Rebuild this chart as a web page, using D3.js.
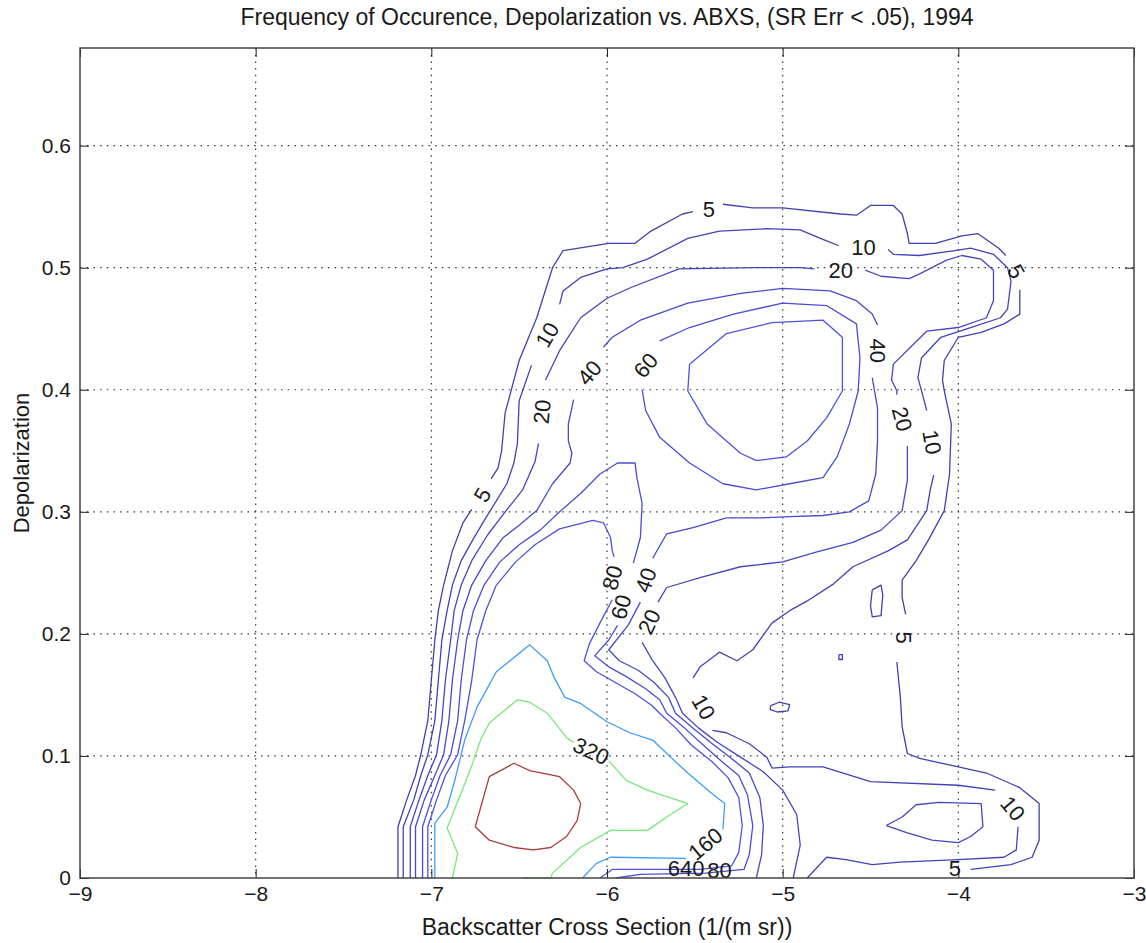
<!DOCTYPE html>
<html>
<head>
<meta charset="utf-8">
<script src="https://cdn.jsdelivr.net/npm/d3@7"></script>
<style>
  body { margin: 0; background: #fff; }
  text { font-family: "Liberation Sans", Arial, Helvetica, sans-serif; fill: #1a1a1a; }
</style>
</head>
<body>
<svg id="chart" width="1146" height="943"></svg>
<script>
/* Frequency of occurence contour chart, depolarization vs. ABXS (1994) */

const xTicks = [-9, -8, -7, -6, -5, -4, -3];
const yTicks = [0, 0.1, 0.2, 0.3, 0.4, 0.5, 0.6];
const levels = [5, 10, 20, 40, 60, 80, 160, 320, 640];

// contour pieces per level, [log10 backscatter, depolarization]
const c5 = [
  [[-7.19,0],[-7.19,0.042],[-7.14,0.064],[-7.09,0.084],[-7.06,0.101],[-7.02,0.129],[-7.0,0.162],[-6.98,0.195],[-6.96,0.219],[-6.93,0.24],[-6.88,0.268],[-6.82,0.291],[-6.77,0.302]],
  [[-6.66,0.327],[-6.62,0.336],[-6.6,0.35],[-6.58,0.381],[-6.5,0.424],[-6.4,0.459],[-6.31,0.5],[-6.25,0.514],[-5.99,0.52],[-5.84,0.52],[-5.75,0.53],[-5.57,0.544],[-5.51,0.546]],
  [[-5.34,0.552],[-5.17,0.549],[-5.0,0.549],[-4.67,0.544],[-4.58,0.543],[-4.5,0.551],[-4.37,0.551],[-4.32,0.544],[-4.29,0.528],[-4.28,0.52],[-4.13,0.52],[-3.98,0.526],[-3.89,0.528],[-3.77,0.516],[-3.73,0.51]],
  [[-3.65,0.482],[-3.65,0.462],[-3.74,0.454],[-3.87,0.447],[-4.0,0.443],[-4.08,0.424],[-4.09,0.408],[-4.08,0.399],[-4.04,0.372],[-4.05,0.331],[-4.08,0.301],[-4.17,0.277],[-4.24,0.26],[-4.32,0.244],[-4.32,0.23],[-4.3,0.216]],
  [[-4.35,0.177],[-4.33,0.148],[-4.32,0.124],[-4.29,0.102],[-4.22,0.098],[-4.0,0.091],[-3.84,0.086],[-3.65,0.074],[-3.54,0.061],[-3.54,0.031],[-3.58,0.017],[-3.7,0.011],[-3.93,0.007]],
  [[-4.49,0.236],[-4.44,0.24],[-4.43,0.232],[-4.44,0.215],[-4.49,0.214],[-4.5,0.223],[-4.49,0.236]],
  [[-4.68,0.183],[-4.66,0.183],[-4.66,0.179],[-4.68,0.179],[-4.68,0.183]],
  [[-5.07,0.141],[-5.02,0.144],[-4.96,0.142],[-4.97,0.137],[-5.03,0.136],[-5.07,0.138],[-5.07,0.141]]
];
const c10 = [
  [[-7.16,0],[-7.16,0.042],[-7.1,0.064],[-7.06,0.084],[-7.02,0.101],[-6.98,0.129],[-6.96,0.162],[-6.94,0.195],[-6.91,0.219],[-6.88,0.24],[-6.83,0.26],[-6.76,0.278],[-6.69,0.295],[-6.63,0.309],[-6.57,0.323],[-6.53,0.34],[-6.51,0.356],[-6.5,0.391],[-6.43,0.42]],
  [[-6.27,0.47],[-6.25,0.481],[-6.15,0.492],[-6.0,0.499],[-5.91,0.5],[-5.77,0.507],[-5.54,0.524],[-5.36,0.53],[-5.09,0.532],[-4.9,0.531],[-4.85,0.528],[-4.75,0.522],[-4.68,0.518]],
  [[-4.4,0.515],[-4.37,0.511],[-4.22,0.51],[-4.02,0.514],[-3.93,0.516],[-3.8,0.511],[-3.72,0.5],[-3.7,0.489],[-3.72,0.466],[-3.76,0.459],[-3.93,0.451],[-4.1,0.443],[-4.21,0.426],[-4.23,0.41],[-4.2,0.394],[-4.18,0.383]],
  [[-4.14,0.33],[-4.16,0.318],[-4.18,0.301],[-4.29,0.277],[-4.4,0.268],[-4.6,0.255],[-4.71,0.241],[-4.86,0.227],[-4.96,0.219],[-5.06,0.209],[-5.17,0.187],[-5.26,0.178],[-5.36,0.185],[-5.47,0.173],[-5.51,0.164]],
  [[-5.4,0.121],[-5.32,0.119],[-5.19,0.11],[-5.09,0.099],[-5.06,0.09],[-4.96,0.091],[-4.77,0.091],[-4.5,0.079],[-4.0,0.076],[-3.79,0.072]],
  [[-3.66,0.042],[-3.67,0.023],[-3.74,0.017],[-4.0,0.015],[-4.33,0.013],[-4.49,0.011],[-4.64,0.015],[-4.75,0.017],[-4.86,0]]
];
const c20 = [
  [[-7.12,0],[-7.12,0.042],[-7.07,0.064],[-7.02,0.084],[-6.97,0.101],[-6.94,0.129],[-6.92,0.162],[-6.89,0.195],[-6.87,0.219],[-6.83,0.24],[-6.77,0.26],[-6.68,0.281],[-6.58,0.3],[-6.48,0.318],[-6.41,0.341],[-6.39,0.356]],
  [[-6.35,0.408],[-6.27,0.432],[-6.15,0.459],[-6.0,0.475],[-5.86,0.484],[-5.59,0.499],[-5.17,0.5],[-4.9,0.5],[-4.82,0.499]],
  [[-4.53,0.498],[-4.44,0.493],[-4.28,0.491],[-4.22,0.495],[-4.07,0.506],[-3.98,0.51],[-3.87,0.507],[-3.8,0.498],[-3.8,0.473],[-3.84,0.459],[-4.0,0.451],[-4.18,0.448],[-4.37,0.421],[-4.38,0.408],[-4.35,0.399],[-4.35,0.396]],
  [[-4.29,0.354],[-4.29,0.345],[-4.29,0.326],[-4.32,0.301],[-4.44,0.285],[-4.6,0.275],[-4.81,0.267],[-5.0,0.259],[-5.24,0.255],[-5.47,0.246],[-5.66,0.238],[-5.71,0.226]],
  [[-5.8,0.193],[-5.74,0.178],[-5.67,0.164],[-5.61,0.148],[-5.57,0.135],[-5.48,0.123],[-5.37,0.111],[-5.24,0.099],[-5.11,0.087],[-5.0,0.072],[-4.92,0.052],[-4.9,0.027],[-4.94,0]],
  [[-4.41,0.043],[-4.32,0.05],[-4.24,0.06],[-4.11,0.062],[-3.87,0.061],[-3.86,0.042],[-3.93,0.034],[-4.0,0.029],[-4.15,0.031],[-4.29,0.037],[-4.41,0.043]]
];
const c40 = [
  [[-7.09,0],[-7.09,0.042],[-7.04,0.064],[-6.98,0.084],[-6.93,0.101],[-6.9,0.129],[-6.88,0.162],[-6.85,0.195],[-6.82,0.219],[-6.77,0.24],[-6.69,0.26],[-6.59,0.279],[-6.5,0.289],[-6.4,0.301],[-6.31,0.323],[-6.21,0.34],[-6.2,0.348],[-6.22,0.358],[-6.22,0.372],[-6.19,0.392]],
  [[-6.02,0.435],[-5.97,0.443],[-5.81,0.457],[-5.54,0.471],[-5.24,0.479],[-5.0,0.483],[-4.73,0.481],[-4.58,0.473],[-4.49,0.462],[-4.46,0.453]],
  [[-4.49,0.41],[-4.46,0.385],[-4.46,0.358],[-4.47,0.331],[-4.51,0.309],[-4.62,0.3],[-4.77,0.297],[-4.96,0.296],[-5.13,0.295],[-5.32,0.295],[-5.51,0.287],[-5.66,0.282],[-5.74,0.262]],
  [[-5.81,0.226],[-5.88,0.207],[-5.99,0.187],[-5.93,0.178],[-5.82,0.17],[-5.73,0.16],[-5.65,0.148],[-5.61,0.135],[-5.52,0.124],[-5.41,0.111],[-5.3,0.099],[-5.19,0.086],[-5.13,0.066],[-5.11,0.043],[-5.12,0.019],[-5.15,0]]
];
const c60 = [
  [[-7.05,0],[-7.05,0.042],[-7.0,0.064],[-6.95,0.084],[-6.89,0.101],[-6.85,0.129],[-6.83,0.162],[-6.8,0.195],[-6.76,0.219],[-6.7,0.24],[-6.61,0.259],[-6.5,0.273],[-6.38,0.285],[-6.27,0.3],[-6.15,0.315],[-6.04,0.331],[-5.94,0.34],[-5.84,0.34],[-5.83,0.328],[-5.8,0.307],[-5.81,0.279],[-5.85,0.258]],
  [[-5.94,0.207],[-5.99,0.195],[-6.07,0.182],[-5.99,0.173],[-5.89,0.165],[-5.78,0.155],[-5.7,0.146],[-5.66,0.135],[-5.56,0.123],[-5.46,0.11],[-5.36,0.097],[-5.25,0.084],[-5.2,0.068],[-5.17,0.043],[-5.19,0.019],[-5.22,0.007],[-5.44,0.004],[-5.81,0.003],[-5.95,0]],
  [[-5.8,0.4],[-5.78,0.383],[-5.7,0.361],[-5.53,0.34],[-5.34,0.323],[-5.15,0.318],[-4.96,0.323],[-4.77,0.328],[-4.69,0.345],[-4.62,0.372],[-4.57,0.399],[-4.56,0.426],[-4.58,0.454],[-4.75,0.469],[-5.0,0.471],[-5.28,0.462],[-5.53,0.451],[-5.7,0.44]]
];
const c80 = [
  [[-7.02,0],[-7.02,0.042],[-6.97,0.064],[-6.92,0.084],[-6.85,0.101],[-6.81,0.129],[-6.77,0.162],[-6.74,0.195],[-6.69,0.219],[-6.63,0.24],[-6.52,0.259],[-6.41,0.273],[-6.27,0.286],[-6.08,0.293],[-6.02,0.291],[-5.98,0.279],[-5.97,0.268],[-5.96,0.263]],
  [[-5.97,0.228],[-6.04,0.209],[-6.1,0.192],[-6.13,0.178],[-6.06,0.169],[-5.95,0.16],[-5.84,0.151],[-5.75,0.142],[-5.7,0.135],[-5.61,0.123],[-5.52,0.109],[-5.4,0.095],[-5.31,0.082],[-5.25,0.066],[-5.23,0.043],[-5.25,0.021],[-5.29,0.01],[-5.47,0.007],[-5.66,0.007],[-5.97,0.007],[-6.04,0]],
  [[-5.53,0.421],[-5.32,0.446],[-5.06,0.455],[-4.77,0.457],[-4.66,0.443],[-4.66,0.399],[-4.75,0.377],[-4.86,0.358],[-4.98,0.345],[-5.15,0.342],[-5.24,0.348],[-5.43,0.372],[-5.54,0.399],[-5.53,0.421]]
];
const c160 = [
  [[-6.98,0],[-6.98,0.045],[-6.91,0.058],[-6.87,0.078],[-6.81,0.113],[-6.74,0.14],[-6.63,0.169],[-6.44,0.191],[-6.34,0.178],[-6.3,0.164],[-6.24,0.148],[-6.15,0.143],[-6.0,0.128],[-5.87,0.119],[-5.74,0.113],[-5.66,0.102],[-5.54,0.086],[-5.41,0.07],[-5.33,0.061],[-5.34,0.04]],
  [[-5.55,0.016],[-5.98,0.017],[-6.06,0.012],[-6.14,0]]
];
const c320 = [
  [[-6.88,0],[-6.85,0.02],[-6.91,0.041],[-6.78,0.088],[-6.72,0.113],[-6.67,0.127],[-6.51,0.146],[-6.44,0.144],[-6.34,0.135],[-6.23,0.115],[-6.19,0.111]],
  [[-5.99,0.096],[-5.89,0.08],[-5.77,0.072],[-5.54,0.061],[-5.66,0.05],[-5.77,0.039],[-5.98,0.039],[-6.15,0.025],[-6.31,0.004],[-6.32,0],[-6.48,0]]
];
const c640 = [
  [[-6.75,0.042],[-6.67,0.083],[-6.53,0.094],[-6.44,0.088],[-6.27,0.083],[-6.19,0.072],[-6.15,0.061],[-6.17,0.047],[-6.23,0.034],[-6.32,0.025],[-6.42,0.023],[-6.53,0.025],[-6.67,0.031],[-6.75,0.042]]
];
const contourSets = [c5, c10, c20, c40, c60, c80, c160, c320, c640];

// inline labels: [level, x, y]
const labelAt = [
  [5,-6.71,0.314],[5,-5.42,0.548],[5,-3.67,0.497],[5,-4.31,0.197],[5,-4.02,0.008],
  [10,-6.34,0.445],[10,-4.54,0.517],[10,-4.15,0.357],[10,-5.45,0.14],[10,-3.69,0.057],
  [20,-6.37,0.382],[20,-4.67,0.498],[20,-4.32,0.376],[20,-5.76,0.21],
  [40,-6.1,0.414],[40,-4.46,0.432],[40,-5.78,0.244],
  [60,-5.78,0.42],[80,-5.97,0.246],[60,-5.92,0.222],
  [160,-5.44,0.028],[320,-6.09,0.104],[640,-5.55,0.008],[80,-5.36,0.006]
];
const labelTilt = [-60,0,60,90,0, -60,0,80,60,50, -85,0,75,-65, -50,90,-70, -50,-75,-75, -40,25,0,0];

const levelColor = d3.scaleOrdinal()
  .domain(levels)
  .range(['#4040b0','#4242b8','#4545c2','#4848cc','#4c4cd6','#5050e0','#3d9cf5','#78e878','#a83c3c']);

const svg = d3.select('#chart');
const margin = {top: 48, right: 12, bottom: 65, left: 80};
const width = 1146 - margin.left - margin.right;
const height = 943 - margin.top - margin.bottom;

const x = d3.scaleLinear().domain([-9, -3]).range([0, width]);
const y = d3.scaleLinear().domain([0, 0.68]).range([height, 0]);

const g = svg.append('g').attr('transform', `translate(${margin.left},${margin.top})`);

// Dotted grid
g.append('g').selectAll('line').data(xTicks.slice(1, -1)).join('line')
  .attr('x1', d => x(d)).attr('x2', d => x(d))
  .attr('y1', 0).attr('y2', height)
  .attr('stroke', '#333').attr('stroke-width', 1.2).attr('stroke-dasharray', '1.5,5.2');
g.append('g').selectAll('line').data(yTicks.slice(1)).join('line')
  .attr('x1', 0).attr('x2', width)
  .attr('y1', d => y(d)).attr('y2', d => y(d))
  .attr('stroke', '#333').attr('stroke-width', 1.2).attr('stroke-dasharray', '1.5,5.2');

// Contours
const line = d3.line().x(d => x(d[0])).y(d => y(d[1]));
const cg = g.append('g');
contourSets.forEach((pieces, i) => {
  cg.append('g').selectAll('path').data(pieces).join('path')
    .attr('d', line)
    .attr('fill', 'none')
    .attr('stroke', levelColor(levels[i]))
    .attr('stroke-width', 1.3)
    .attr('stroke-linejoin', 'round');
});

// Contour labels
g.append('g').selectAll('text').data(labelAt).join('text')
  .attr('transform', (d, i) => `translate(${x(d[1])},${y(d[2])}) rotate(${labelTilt[i]})`)
  .attr('text-anchor', 'middle')
  .attr('dy', '0.35em')
  .style('font-size', '22px')
  .text(d => d[0]);

// Axes (ticks inward, MATLAB style)
const fmtY = d => d === 0 ? '0' : d3.format('.1f')(d);
const axB = g.append('g').attr('transform', `translate(0,${height})`)
  .call(d3.axisBottom(x).tickValues(xTicks).tickSizeInner(-9).tickSizeOuter(0).tickPadding(8).tickFormat(d3.format('d')));
const axT = g.append('g')
  .call(d3.axisTop(x).tickValues(xTicks).tickSizeInner(-9).tickSizeOuter(0).tickFormat(''));
const axL = g.append('g')
  .call(d3.axisLeft(y).tickValues(yTicks).tickSizeInner(-9).tickSizeOuter(0).tickPadding(9).tickFormat(fmtY));
const axR = g.append('g').attr('transform', `translate(${width},0)`)
  .call(d3.axisRight(y).tickValues(yTicks).tickSizeInner(-9).tickSizeOuter(0).tickFormat(''));
[axB, axT, axL, axR].forEach(a => {
  a.select('.domain').remove();
  a.selectAll('.tick line').attr('stroke', '#222');
  a.selectAll('text').style('font-size', '21px').style('font-family', '"Liberation Sans", Arial, sans-serif').attr('fill', '#1a1a1a');
});

g.append('rect')
  .attr('width', width).attr('height', height)
  .attr('fill', 'none').attr('stroke', '#444').attr('stroke-width', 1.5);

// Titles
svg.append('text')
  .attr('x', margin.left + width / 2).attr('y', 25)
  .attr('text-anchor', 'middle').style('font-size', '23px')
  .text('Frequency of Occurence, Depolarization vs. ABXS, (SR Err < .05), 1994');
svg.append('text')
  .attr('x', margin.left + width / 2).attr('y', 935)
  .attr('text-anchor', 'middle').style('font-size', '23px')
  .text('Backscatter Cross Section (1/(m sr))');
svg.append('text')
  .attr('transform', `translate(29,${margin.top + height / 2}) rotate(-90)`)
  .attr('text-anchor', 'middle').style('font-size', '22px')
  .text('Depolarization');
</script>
</body>
</html>
